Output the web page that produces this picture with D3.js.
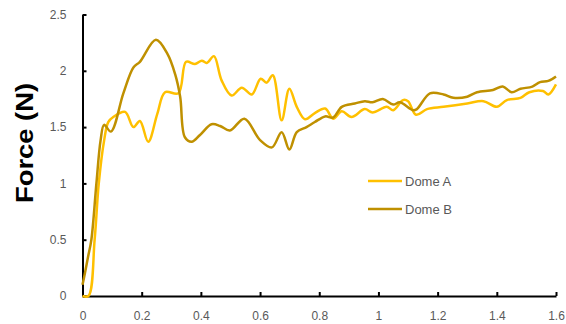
<!DOCTYPE html>
<html><head><meta charset="utf-8">
<script src="https://cdn.jsdelivr.net/npm/d3@7"></script>
<style>body{margin:0;background:#fff}svg{display:block}</style>
</head><body><svg id="c" width="566" height="324"></svg>
<script>
const seriesNames = ["Dome A", "Dome B"];
const domeA_x = [0,0.02,0.041,0.055,0.073,0.087,0.104,0.144,0.172,0.194,0.222,0.253,0.279,0.324,0.35,0.38,0.403,0.42,0.444,0.47,0.504,0.538,0.572,0.602,0.622,0.643,0.673,0.699,0.724,0.752,0.785,0.82,0.847,0.876,0.909,0.954,0.98,1.028,1.05,1.083,1.10,1.127,1.164,1.22,1.30,1.355,1.40,1.434,1.48,1.51,1.556,1.574,1.60];
const domeA_y = [0,0,0.50,1.00,1.38,1.545,1.59,1.635,1.50,1.555,1.37,1.62,1.81,1.80,2.08,2.06,2.09,2.07,2.13,1.915,1.78,1.85,1.79,1.93,1.895,1.96,1.56,1.84,1.68,1.57,1.625,1.665,1.575,1.64,1.59,1.66,1.63,1.68,1.65,1.74,1.73,1.61,1.66,1.68,1.71,1.73,1.68,1.74,1.76,1.81,1.82,1.79,1.88];
const domeB_x = [0,0.008,0.019,0.03,0.047,0.061,0.073,0.096,0.138,0.172,0.194,0.248,0.287,0.313,0.33,0.346,0.369,0.397,0.436,0.465,0.498,0.547,0.60,0.64,0.673,0.699,0.724,0.757,0.785,0.82,0.847,0.876,0.92,0.954,0.98,1.015,1.05,1.072,1.117,1.13,1.174,1.22,1.253,1.30,1.333,1.387,1.42,1.45,1.48,1.52,1.546,1.574,1.60];
const domeB_y = [0.10,0.20,0.35,0.50,1.00,1.38,1.52,1.46,1.80,2.03,2.08,2.275,2.15,1.97,1.77,1.41,1.37,1.43,1.525,1.51,1.47,1.575,1.385,1.32,1.455,1.30,1.455,1.50,1.545,1.595,1.585,1.68,1.71,1.73,1.72,1.75,1.70,1.72,1.65,1.66,1.80,1.79,1.76,1.77,1.81,1.83,1.86,1.81,1.84,1.86,1.90,1.91,1.95];
const xTicks = [0,0.2,0.4,0.6,0.8,1,1.2,1.4,1.6];
const yTicks = [0,0.5,1,1.5,2,2.5];
const yLabel = "Force (N)";

const colors = ["#FFC000", "#BF9000"];
const svg = d3.select("#c");
const x = d3.scaleLinear().domain([0,1.6]).range([82.5,556]);
const y = d3.scaleLinear().domain([0,2.5]).range([296,14.5]);

const series = [
  domeA_x.map((v,i)=>[v,domeA_y[i]]),
  domeB_x.map((v,i)=>[v,domeB_y[i]])
];
const line = d3.line().x(d=>x(d[0])).y(d=>y(d[1])).curve(d3.curveCatmullRom.alpha(0.5));

// axes
const xa = svg.append("g").attr("transform","translate(0,296)")
  .call(d3.axisBottom(x).tickValues(xTicks).tickFormat(d3.format("")).tickSizeInner(-4).tickSizeOuter(0).tickPadding(15));
const ya = svg.append("g").attr("transform","translate(82.5,0)")
  .call(d3.axisLeft(y).tickValues(yTicks).tickFormat(d3.format("")).tickSizeInner(-4).tickSizeOuter(0).tickPadding(16));
[xa,ya].forEach(a=>{
  a.select(".domain").attr("stroke","#000").attr("stroke-width",2);
  a.selectAll(".tick line").attr("stroke","#000").attr("stroke-width",2);
  a.selectAll("text").attr("fill","#595959").attr("font-family","Liberation Sans, Arial, sans-serif").attr("font-size",12);
});

// lines
series.forEach((s,i)=>{
  svg.append("path").datum(s).attr("d",line).attr("fill","none")
    .attr("stroke",colors[i]).attr("stroke-width",2.5).attr("stroke-linejoin","round");
});

// y label
svg.append("text").attr("transform","translate(33,143) rotate(-90)")
  .attr("text-anchor","middle").attr("font-family","Liberation Sans, Arial, sans-serif")
  .attr("font-weight","bold").attr("font-size",23).attr("fill","#000")
  .attr("textLength",120).attr("lengthAdjust","spacingAndGlyphs").text(yLabel);

// legend
seriesNames.forEach((n,i)=>{
  const ly = 181 + i*28;
  svg.append("line").attr("x1",368).attr("x2",402).attr("y1",ly).attr("y2",ly)
    .attr("stroke",colors[i]).attr("stroke-width",2.5);
  svg.append("text").attr("x",405).attr("y",ly+4.5).attr("fill","#595959")
    .attr("font-family","Liberation Sans, Arial, sans-serif").attr("font-size",13).text(n);
});
</script></body></html>
